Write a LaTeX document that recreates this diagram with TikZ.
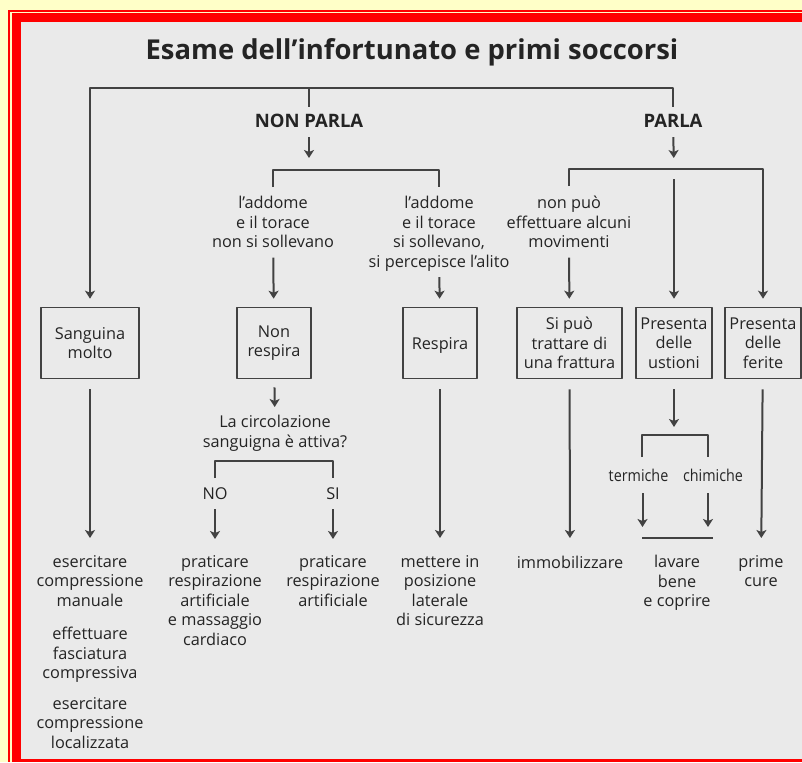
\documentclass[tikz,border=0pt]{standalone}
\usepackage{fontspec}
\setmainfont{Open Sans}
\newfontfamily\condfont[FakeStretch=0.88]{Open Sans}
\usetikzlibrary{arrows.meta}
\definecolor{bgyellow}{RGB}{255,255,200}
\definecolor{framered}{RGB}{255,0,0}
\definecolor{panelgray}{RGB}{234,234,234}
\definecolor{inkgray}{RGB}{66,66,66}
\definecolor{txtgray}{RGB}{36,36,36}

\begin{document}
\begin{tikzpicture}[x=1pt, y=-1pt, line join=round,
	plain/.style={inner sep=0pt, align=center, text=txtgray, font=\fontsize{16.3}{19.5}\selectfont},
	txt/.style={plain, execute at begin node=\strut, execute at end node=\strut},
	small/.style={txt, font=\fontsize{16.3}{19.5}\condfont},
	lbl/.style={inner sep=0pt, text=txtgray, font=\fontsize{18.5}{19.5}\selectfont\bfseries,
		execute at begin node=\strut},
	box/.style={plain, execute at begin node={\rule{0pt}{17pt}}, draw=inkgray, line width=1.6pt, minimum height=71pt},
	line/.style={draw=inkgray, line width=2pt},
	arr/.style={line, -{Stealth[length=8pt, width=10pt, inset=2pt]}}]
	% frame
	\fill[bgyellow] (0,0) rectangle (802,762);
	\fill[framered] (8,10) rectangle (802,762);
	\fill[bgyellow] (10,12) rectangle (802,762);
	\fill[framered] (12,13) rectangle (802,762);
	\fill[panelgray] (21,22) rectangle (802,759);
	\useasboundingbox (0,0) rectangle (802,762);

	\node[anchor=base, text=txtgray, font=\fontsize{27.4}{30}\selectfont\bfseries] (title) at (412,60) {Esame dell’infortunato e primi soccorsi};

	\node[lbl, anchor=base] (npar) at (309,128) {NON PARLA};
	\node[lbl, anchor=base] (par) at (673,128) {PARLA};
	\coordinate (top) at (309,88);
	\coordinate (nbr) at (309,170);
	\coordinate (pbr) at (674,169);

	% boxes
	\node[box, minimum width=98pt] (sang) at (90,343) {Sanguina\\molto};
	\node[box, minimum width=74pt] (nres) at (274,343) {Non\\respira};
	\node[box, minimum width=74pt] (resp) at (440,343) {Respira};
	\node[box, minimum width=105pt] (frat) at (569.5,343) {Si può\\trattare di\\una frattura};
	\node[box, minimum width=76pt] (ust) at (674,343) {Presenta\\delle\\ustioni};
	\node[box, minimum width=76pt] (fer) at (763,343) {Presenta\\delle\\ferite};

	\node[txt, anchor=north] (addn) at (273,196) {l’addome\\e il torace\\non si sollevano};
	\node[txt, anchor=north] (adds) at (439,196) {l’addome\\e il torace\\si sollevano,\\si percepisce l’alito};
	\node[txt, anchor=north] (mov) at (569,196) {non può\\effettuare alcuni\\movimenti};

	\node[txt, anchor=north] (circ) at (275,415) {La circolazione\\sanguigna è attiva?};
	\node[txt, anchor=base] (no) at (215,499) {NO};
	\node[txt, anchor=base] (si) at (333,499) {SI};
	\coordinate (cbr) at (274,461);

	\node[small, anchor=base] (term) at (638.5,481) {termiche};
	\node[small, anchor=base] (chim) at (713,481) {chimiche};
	\coordinate (ubr) at (674,435);
	\coordinate (lbl) at (642,538);
	\coordinate (lbr) at (713,538);

	% results
	\node[txt, anchor=north] (esc) at (90,555) {esercitare\\compressione\\manuale};
	\node[txt, anchor=north] (fasc) at (90,627) {effettuare\\fasciatura\\compressiva};
	\node[txt, anchor=north] (loc) at (90,697) {esercitare\\compressione\\localizzata};
	\node[txt, anchor=north] (pra1) at (215,555) {praticare\\respirazione\\artificiale\\e massaggio\\cardiaco};
	\node[txt, anchor=north] (pra2) at (333,555) {praticare\\respirazione\\artificiale};
	\node[txt, anchor=north] (mett) at (440,555) {mettere in\\posizione\\laterale\\di sicurezza};
	\node[txt, anchor=north] (imm) at (570,555) {immobilizzare};
	\node[txt, anchor=north] (lav) at (677,555) {lavare\\bene\\e coprire};
	\node[txt, anchor=north] (prim) at (761,555) {prime\\cure};

	% connectors
	\draw[line, shorten >=7pt] (top) -- (npar);
	\draw[line, shorten >=7pt] (top) -| (par);
	\draw[arr, shorten >=8pt] (top) -| (sang);
	\draw[arr, shorten <=3pt, shorten >=12pt] (npar) -- (nbr);
	\draw[line, shorten <=9pt, shorten >=9pt] (addn) |- (nbr) -| (adds);
	\draw[arr, shorten <=4pt, shorten >=8pt] (addn) -- (nres);
	\draw[arr, shorten <=4pt, shorten >=8pt] (adds) -- (resp);
	\draw[arr, shorten <=3pt, shorten >=11pt] (par) -- (pbr);
	\draw[line, shorten <=10pt] (mov) |- (pbr);
	\draw[arr, shorten >=8pt] (pbr) -| (fer);
	\draw[arr, shorten <=10pt, shorten >=8pt] (pbr) -- (ust);
	\draw[arr, shorten <=4pt, shorten >=8pt] (mov) -- (frat);

	\draw[arr, shorten <=10pt, shorten >=17pt] (sang) -- (esc);
	\draw[arr, shorten <=8pt, shorten >=8pt] (nres) -- (circ);
	\draw[line, shorten <=7pt, shorten >=7pt] (no) |- (cbr) -| (si);
	\draw[arr, shorten <=4pt, shorten >=16pt] (no) -- (pra1);
	\draw[arr, shorten <=4pt, shorten >=16pt] (si) -- (pra2);
	\draw[arr, shorten <=10pt, shorten >=17pt] (resp) -- (mett);
	\draw[arr, shorten <=10pt, shorten >=17pt] (frat) -- (imm);
	\draw[arr, shorten <=10pt, shorten >=8pt] (ust) -- (ubr);
	\draw[line, shorten <=10pt, shorten >=10pt] ([xshift=3.5pt]term.north) |- (ubr) -| ([xshift=-5pt]chim.north);
	\draw[arr, shorten <=6pt, shorten >=11pt] ([xshift=4pt]term.south) -- ([xshift=4pt]term.south |- lbl);
	\draw[arr, shorten <=6pt, shorten >=11pt] ([xshift=-5pt]chim.south) -- ([xshift=-5pt]chim.south |- lbl);
	\draw[line] (lbl) -- (lbr);
	\draw[arr, shorten <=10pt, shorten >=17pt] (fer) -- (prim);
\end{tikzpicture}
\end{document}
